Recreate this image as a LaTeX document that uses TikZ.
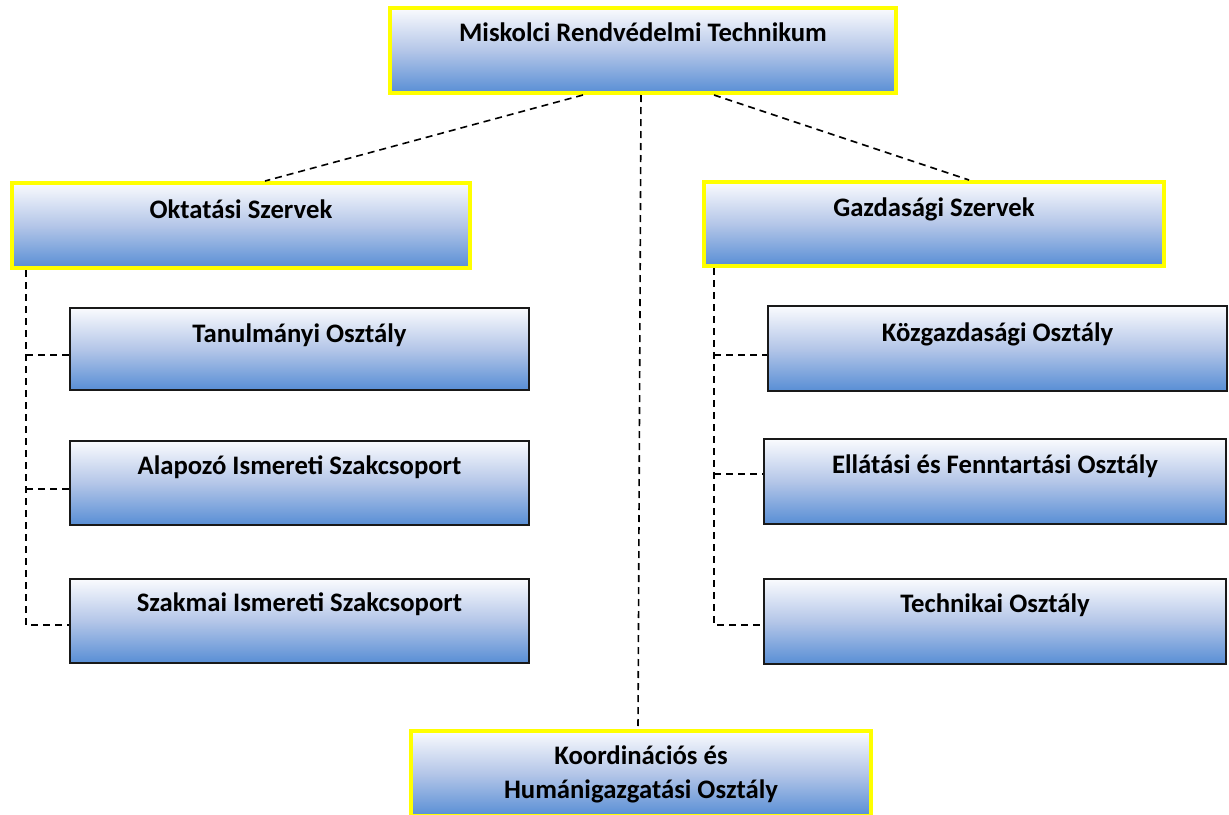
\documentclass[tikz,border=0pt]{standalone}
\usepackage{fontspec}
\setmainfont{Carlito}
\definecolor{gtop}{RGB}{250,251,254}
\definecolor{gmid}{RGB}{180,198,232}
\definecolor{gbot}{RGB}{88,142,213}
\definecolor{ybord}{RGB}{255,255,0}
\tikzset{
  shadebox/.style={rectangle, inner sep=0pt, top color=gtop, bottom color=gbot, middle color=gmid},
  mainbox/.style={shadebox, draw=ybord, line width=4pt},
  subbox/.style={shadebox, draw=black!90, line width=2pt},
  txt/.style={anchor=base, inner sep=0pt, font=\fontsize{26.7}{34}\selectfont\bfseries, align=center},
  conn/.style={draw=black, line width=1.6pt, dash pattern=on 7pt off 5pt},
}
\begin{document}
\begin{tikzpicture}[x=1pt,y=-1pt]
\useasboundingbox (0,0) rectangle (1229,814);
% main boxes
\node[mainbox, minimum width=506pt, minimum height=85pt] (top) at (643,50.5) {};
\node[mainbox, minimum width=458pt, minimum height=85pt] (okt) at (241,225.5) {};
\node[mainbox, minimum width=460pt, minimum height=84pt] (gaz) at (934,224) {};
\node[mainbox, minimum width=460pt, minimum height=85pt] (koo) at (641,773.5) {};
% sub boxes
\node[subbox, minimum width=459pt, minimum height=82pt] (tan) at (299.5,349) {};
\node[subbox, minimum width=459pt, minimum height=84pt] (ala) at (299.5,483) {};
\node[subbox, minimum width=459pt, minimum height=84pt] (sza) at (299.5,621) {};
\node[subbox, minimum width=459pt, minimum height=85pt] (koz) at (997.5,348.5) {};
\node[subbox, minimum width=462pt, minimum height=85pt] (ell) at (995,481.5) {};
\node[subbox, minimum width=462pt, minimum height=85pt] (tec) at (995,621.5) {};
% texts
\node[txt] (toptx) at ([yshift=-35pt]top.north) {Miskolci Rendvédelmi Technikum};
\node[txt] (okttx) at ([yshift=-37pt]okt.north) {Oktatási Szervek};
\node[txt] (gaztx) at ([yshift=-36pt]gaz.north) {Gazdasági Szervek};
\node[txt] (tantx) at ([yshift=-35pt]tan.north) {Tanulmányi Osztály};
\node[txt] (alatx) at ([yshift=-34pt]ala.north) {Alapozó Ismereti Szakcsoport};
\node[txt] (szatx) at ([yshift=-33pt]sza.north) {Szakmai Ismereti Szakcsoport};
\node[txt] (koztx) at ([yshift=-36pt]koz.north) {Közgazdasági Osztály};
\node[txt] (elltx) at ([yshift=-35pt]ell.north) {Ellátási és Fenntartási Osztály};
\node[txt] (tectx) at ([yshift=-34pt]tec.north) {Technikai Osztály};
\node[txt] (kootx) at ([yshift=-69pt]koo.north) {Koordinációs és\\Humánigazgatási Osztály};
% connectors from the top
\draw[conn] ([xshift=-60pt]top.south) -- ([xshift=24pt]okt.north);
\draw[conn] ([xshift=71pt]top.south) -- ([xshift=35pt]gaz.north);
\draw[conn] ([xshift=-2pt]top.south) -- ([xshift=-3pt]koo.north);
% left trunk
\coordinate (lt) at ([xshift=16pt]okt.south west);
\coordinate (tanb) at ([yshift=-6pt]tan.west);
\coordinate (alab) at ([yshift=-6pt]ala.west);
\coordinate (szab) at ([yshift=-4pt]sza.west);
\draw[conn] (lt) |- (szab);
\draw[conn] (lt |- tanb) -- (tanb);
\draw[conn] (lt |- alab) -- (alab);
% right trunk
\coordinate (rt) at ([xshift=12pt]gaz.south west);
\coordinate (kozb) at ([yshift=-6.5pt]koz.west);
\coordinate (ellb) at ([yshift=7.5pt]ell.west);
\coordinate (tecb) at ([yshift=-3.5pt]tec.west);
\draw[conn] (rt) |- (tecb);
\draw[conn] (rt |- kozb) -- (kozb);
\draw[conn] (rt |- ellb) -- (ellb);
\end{tikzpicture}
\end{document}
